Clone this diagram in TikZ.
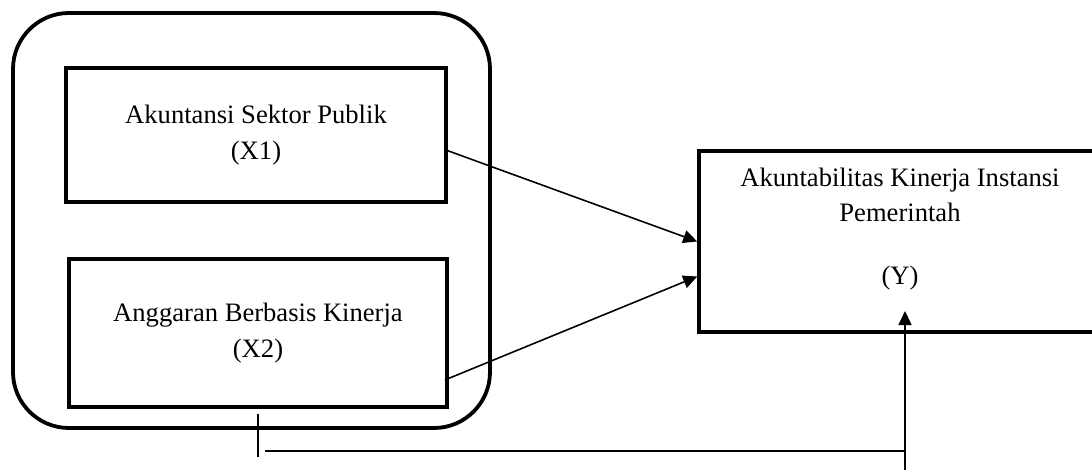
\documentclass[tikz,border=0pt]{standalone}
\usepackage{fontspec}
\setmainfont{Liberation Serif}
\usetikzlibrary{arrows.meta,calc}
\begin{document}
\begin{tikzpicture}[x=0.5pt,y=-0.5pt,
  boxstyle/.style={draw,line width=1.8pt,rectangle,inner sep=0pt,align=center,
    font=\fontsize{13.3}{18}\selectfont},
  conn/.style={line width=0.8pt,-{Triangle[length=7pt,width=6.5pt]}},
  plainline/.style={line width=0.75pt},
  lbl/.style={align=center,inner sep=0pt,font=\fontsize{13.3}{17.5}\selectfont}]
\clip (0,0) rectangle (1092,470);
\useasboundingbox (0,0) rectangle (1092,470);
% outer rounded group
\node (grp) [draw,line width=1.9pt,rounded corners=28pt,minimum width=238.5pt,minimum height=207.5pt,inner sep=0pt] at (251.5,220.5) {};
% inner boxes
\node (x1) [boxstyle,minimum width=190pt,minimum height=67pt] at (256,135) {Akuntansi Sektor Publik\\(X1)};
\node (x2) [boxstyle,minimum width=189pt,minimum height=74pt] at (258,333) {Anggaran Berbasis Kinerja\\(X2)};
% dependent box
\node (yb) [boxstyle,minimum width=206pt,minimum height=90.5pt] at (905,241.5) {};
\node (ytxt) [lbl] at (900,229) {Akuntabilitas Kinerja Instansi\\Pemerintah\\[14pt](Y)};
% arrows
\draw[conn] ([yshift=-7.5pt,xshift=-1pt]x1.east) -- ([yshift=0pt]yb.west);
\draw[conn] ([yshift=-23.5pt,xshift=-2pt]x2.east) -- ([yshift=-17.5pt]yb.west);
% bottom connector
\coordinate (t1) at (258,414);
\coordinate (t2) at (258,457);
\coordinate (h1) at (265,451);
\coordinate (vb) at (905,475);
\coordinate (ytip) at (905,311);
\draw[plainline] (t1) -- (t2);
\draw[plainline] (h1) -- (h1 -| vb);
\draw[conn] (vb) -- (ytip);
\end{tikzpicture}
\end{document}
